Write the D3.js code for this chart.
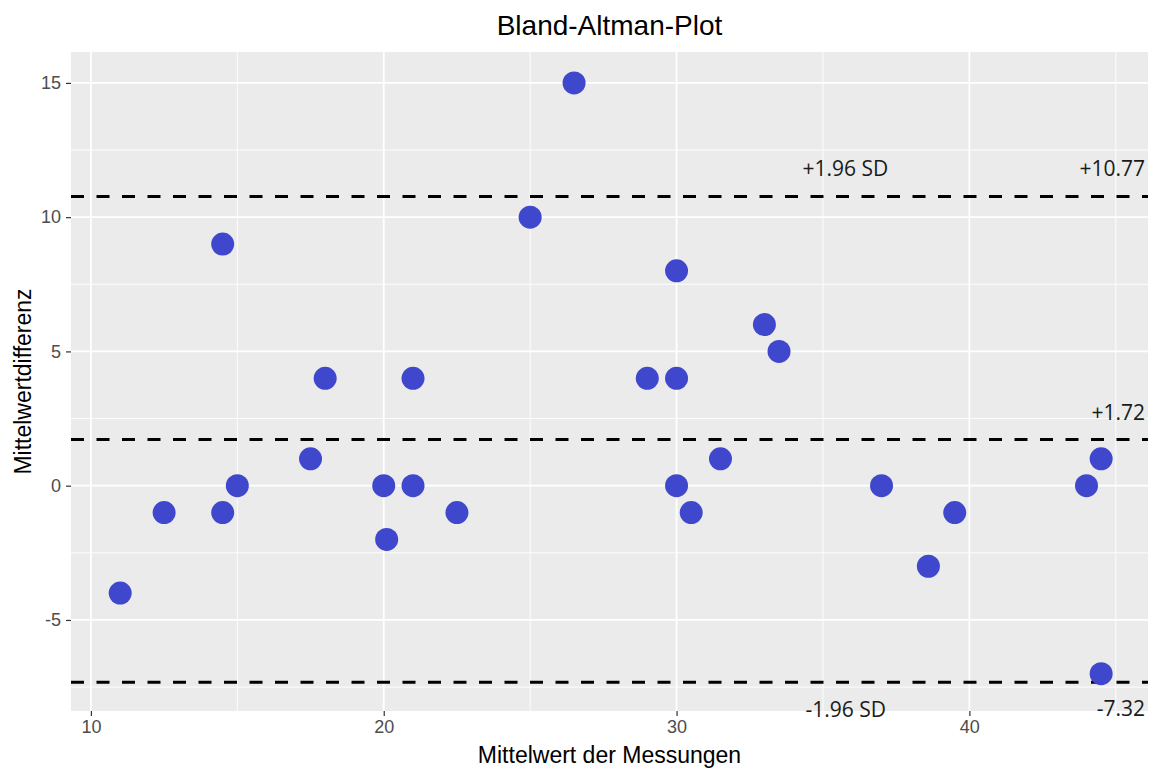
<!DOCTYPE html>
<html>
<head>
<meta charset="utf-8">
<script src="https://cdn.jsdelivr.net/npm/d3@7"></script>
<style>
  body { margin: 0; background: #fff; }
  svg { display: block; }
</style>
</head>
<body>
<script>
// means of the two measurements and their differences
var meanValues = [11, 12.5, 14.5, 14.5, 15, 17.5, 18, 20, 20.1, 21, 21, 22.5, 25, 26.5,
                  29, 30, 30, 30, 30.5, 31.5, 33, 33.5, 37, 38.6, 39.5, 44, 44.5, 44.5];
var diffValues = [-4, -1, 9, -1, 0, 1, 4, 0, -2, 4, 0, -1, 10, 15,
                  4, 8, 4, 0, -1, 1, 6, 5, 0, -3, -1, 0, 1, -7];

// reference lines: mean difference and limits of agreement
var refLines = [10.77, 1.72, -7.32];
var refLabels = ["+10.77", "+1.72", "-7.32"];

var xTicks = [10, 20, 30, 40];
var yTicks = [-5, 0, 5, 10, 15];

var width = 1151, height = 771;
var margin = { top: 52, right: 3, bottom: 60, left: 71 };
var innerW = width - margin.left - margin.right,
    innerH = height - margin.top - margin.bottom;

var svg = d3.select("body").append("svg")
  .attr("width", width)
  .attr("height", height);

var x = d3.scaleLinear().domain([9.32, 46.1]).range([0, innerW]);
var y = d3.scaleLinear().domain([-8.39, 16.15]).range([innerH, 0]);

var g = svg.append("g")
  .attr("transform", "translate(" + margin.left + "," + margin.top + ")");

// panel background
g.append("rect")
  .attr("width", innerW)
  .attr("height", innerH)
  .attr("fill", "#ebebeb");

// minor grid
var xMinor = [15, 25, 35, 45], yMinor = [-7.5, -2.5, 2.5, 7.5, 12.5];
g.selectAll(".xminor").data(xMinor).enter().append("line")
  .attr("x1", d => x(d)).attr("x2", d => x(d))
  .attr("y1", 0).attr("y2", innerH)
  .attr("stroke", "#fff").attr("stroke-width", 0.9);
g.selectAll(".yminor").data(yMinor).enter().append("line")
  .attr("y1", d => y(d)).attr("y2", d => y(d))
  .attr("x1", 0).attr("x2", innerW)
  .attr("stroke", "#fff").attr("stroke-width", 0.9);

// major grid
g.selectAll(".xmajor").data(xTicks).enter().append("line")
  .attr("x1", d => x(d)).attr("x2", d => x(d))
  .attr("y1", 0).attr("y2", innerH)
  .attr("stroke", "#fff").attr("stroke-width", 1.8);
g.selectAll(".ymajor").data(yTicks).enter().append("line")
  .attr("y1", d => y(d)).attr("y2", d => y(d))
  .attr("x1", 0).attr("x2", innerW)
  .attr("stroke", "#fff").attr("stroke-width", 1.8);

// axes (plain hyphen for negatives, like the original)
var fmt = d => String(d);
var xAxis = g.append("g")
  .attr("transform", "translate(0," + innerH + ")")
  .call(d3.axisBottom(x).tickValues(xTicks).tickFormat(fmt).tickSize(5).tickPadding(4));
var yAxis = g.append("g")
  .call(d3.axisLeft(y).tickValues(yTicks).tickFormat(fmt).tickSize(5).tickPadding(5));

[xAxis, yAxis].forEach(function (a) {
  a.select(".domain").remove();
  a.selectAll(".tick line").attr("stroke", "#333").attr("stroke-width", 1.2);
  a.selectAll(".tick text")
    .attr("fill", "#4d4d4d")
    .style("font-family", "'Liberation Sans', Arial, sans-serif")
    .style("font-size", "18px");
});

// reference lines
g.selectAll(".ref").data(refLines).enter().append("line")
  .attr("x1", 0).attr("x2", innerW)
  .attr("y1", d => y(d)).attr("y2", d => y(d))
  .attr("stroke", "#000")
  .attr("stroke-width", 3)
  .attr("stroke-dasharray", "13,12.5");

// points
g.selectAll("circle").data(meanValues).enter().append("circle")
  .attr("cx", d => x(d))
  .attr("cy", (d, i) => y(diffValues[i]))
  .attr("r", 11.5)
  .attr("fill", "#3f48cc");

// line labels
var labelFont = "'Open Sans', 'Noto Sans', sans-serif";
g.selectAll(".reflabel").data(refLines).enter().append("text")
  .attr("x", innerW - 3)
  .attr("y", (d, i) => y(d) + (i == 2 ? 34 : -20))
  .attr("text-anchor", "end")
  .style("font-family", labelFont)
  .style("font-size", "21px")
  .attr("fill", "#1a1a1a")
  .text((d, i) => refLabels[i]);

g.append("text")
  .attr("x", x(34.3))
  .attr("y", y(refLines[0]) - 20)
  .style("font-family", labelFont)
  .style("font-size", "21px")
  .attr("fill", "#1a1a1a")
  .text("+1.96 SD");

g.append("text")
  .attr("x", x(34.4))
  .attr("y", y(refLines[2]) + 35)
  .style("font-family", labelFont)
  .style("font-size", "21px")
  .attr("fill", "#1a1a1a")
  .text("-1.96 SD");

// title and axis titles
svg.append("text")
  .attr("x", margin.left + innerW / 2)
  .attr("y", 35)
  .attr("text-anchor", "middle")
  .style("font-family", "'Liberation Sans', Arial, sans-serif")
  .style("font-size", "28px")
  .attr("fill", "#000")
  .text("Bland-Altman-Plot");

svg.append("text")
  .attr("x", margin.left + innerW / 2)
  .attr("y", 763)
  .attr("text-anchor", "middle")
  .style("font-family", "'Liberation Sans', Arial, sans-serif")
  .style("font-size", "23px")
  .attr("fill", "#000")
  .text("Mittelwert der Messungen");

svg.append("text")
  .attr("transform", "translate(31," + (margin.top + innerH / 2) + ") rotate(-90)")
  .attr("text-anchor", "middle")
  .style("font-family", "'Liberation Sans', Arial, sans-serif")
  .style("font-size", "23px")
  .attr("fill", "#000")
  .text("Mittelwertdifferenz");
</script>
</body>
</html>
